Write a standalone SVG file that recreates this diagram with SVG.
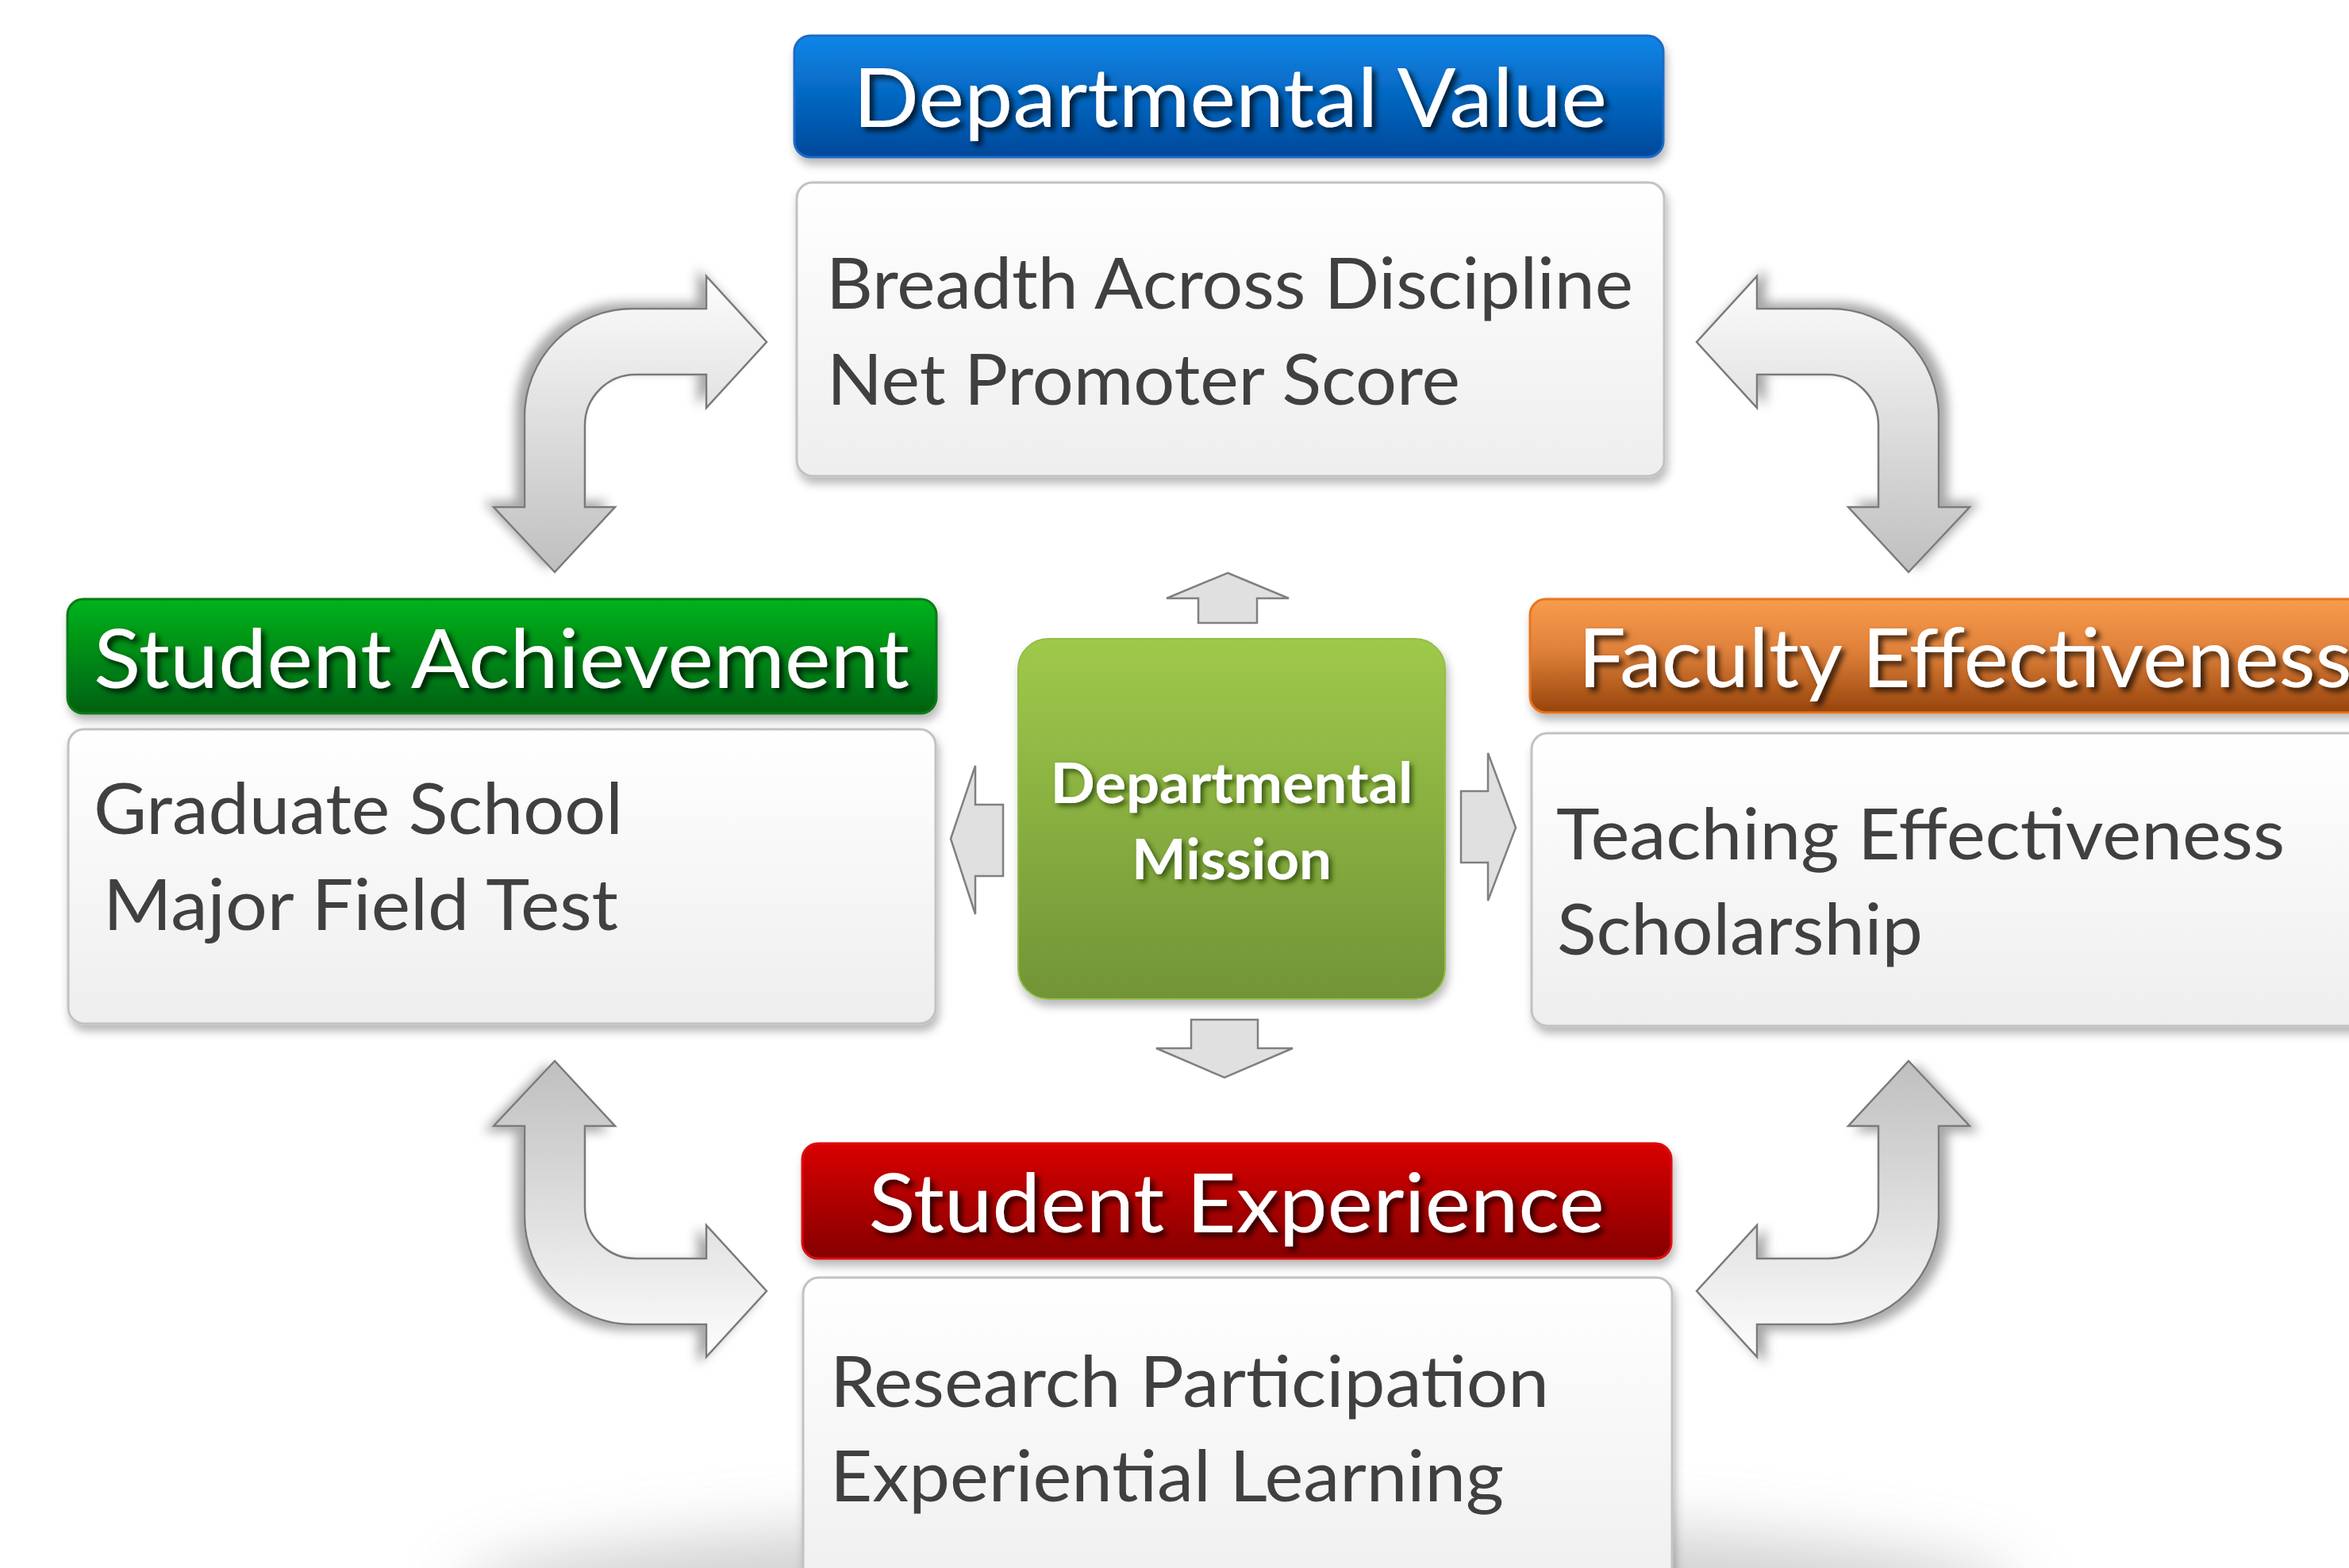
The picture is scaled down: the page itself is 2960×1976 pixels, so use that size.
<svg xmlns="http://www.w3.org/2000/svg" width="2960" height="1976" viewBox="0 0 2960 1976">
<defs>
<style>
.hdr{font-family:Lato,"Open Sans","Liberation Sans",sans-serif;font-size:102px;fill:#ffffff;filter:url(#fText)}
.body{font-family:Lato,"Open Sans","Liberation Sans",sans-serif;font-size:89px;fill:#404040}
.mis{font-family:Lato,"Open Sans","Liberation Sans",sans-serif;font-size:71px;font-weight:700;fill:#ffffff;filter:url(#fTextG)}
.panel{fill:url(#gPanel);stroke:#c2c2c2;stroke-width:3;filter:url(#fPanel)}
.small{fill:#e0e0e0;stroke:#808080;stroke-width:2.5}
.bent{fill:url(#gBent);stroke:#7a7a7a;stroke-width:2.5;filter:url(#fBent)}
</style>
<linearGradient id="gPanel" x1="0" y1="0" x2="0" y2="1"><stop offset="0" stop-color="#ffffff"/><stop offset="1" stop-color="#eeeeee"/></linearGradient>
<linearGradient id="gBlue" x1="0" y1="0" x2="0" y2="1"><stop offset="0" stop-color="#0b86e8"/><stop offset="1" stop-color="#00489a"/></linearGradient>
<linearGradient id="gGreen" x1="0" y1="0" x2="0" y2="1"><stop offset="0" stop-color="#00b31c"/><stop offset="1" stop-color="#006010"/></linearGradient>
<linearGradient id="gOrange" x1="0" y1="0" x2="0" y2="1"><stop offset="0" stop-color="#f89c4e"/><stop offset="0.45" stop-color="#e0813a"/><stop offset="1" stop-color="#96440c"/></linearGradient>
<linearGradient id="gRed" x1="0" y1="0" x2="0" y2="1"><stop offset="0" stop-color="#d90000"/><stop offset="1" stop-color="#850000"/></linearGradient>
<linearGradient id="gCenter" x1="0" y1="0" x2="0" y2="1"><stop offset="0" stop-color="#9fc94a"/><stop offset="1" stop-color="#729437"/></linearGradient>
<linearGradient id="gBent" x1="0" y1="0" x2="0" y2="1"><stop offset="0" stop-color="#bfbfbf"/><stop offset="1" stop-color="#fdfdfd"/></linearGradient>
<filter id="fPanel" x="-10%" y="-15%" width="120%" height="140%">
<feGaussianBlur in="SourceAlpha" stdDeviation="6"/>
<feOffset dx="3" dy="8" result="b"/>
<feFlood flood-color="#000000" flood-opacity="0.28"/>
<feComposite in2="b" operator="in"/>
<feMerge><feMergeNode/><feMergeNode in="SourceGraphic"/></feMerge>
</filter>
<filter id="fText" x="-5%" y="-20%" width="110%" height="150%">
<feGaussianBlur in="SourceAlpha" stdDeviation="3.5"/>
<feOffset dx="5" dy="5" result="b"/>
<feFlood flood-color="#000000" flood-opacity="0.75"/>
<feComposite in2="b" operator="in"/>
<feMerge><feMergeNode/><feMergeNode in="SourceGraphic"/></feMerge>
</filter>
<filter id="fTextG" x="-10%" y="-20%" width="120%" height="150%">
<feGaussianBlur in="SourceAlpha" stdDeviation="3"/>
<feOffset dx="4" dy="4" result="b"/>
<feFlood flood-color="#2c4a0c" flood-opacity="0.85"/>
<feComposite in2="b" operator="in"/>
<feMerge><feMergeNode/><feMergeNode in="SourceGraphic"/></feMerge>
</filter>
<filter id="fBent" x="-20%" y="-20%" width="140%" height="140%">
<feGaussianBlur in="SourceAlpha" stdDeviation="7"/>
<feOffset dx="10" dy="6" result="b"/>
<feFlood flood-color="#000000" flood-opacity="0.35"/>
<feComposite in2="b" operator="in"/>
<feMerge><feMergeNode/><feMergeNode in="SourceGraphic"/></feMerge>
</filter>
<filter id="fFloor" x="-20%" y="-100%" width="140%" height="300%">
<feGaussianBlur stdDeviation="40"/>
</filter>
<path id="bentArrow" d="M2405,1337 L2482,1419 L2443,1419 L2443,1533 A136,136 0 0 1 2307,1669 L2214,1669 L2214,1710 L2138,1627 L2214,1544 L2214,1586 L2303,1586 A64,64 0 0 0 2367,1522 L2367,1419 L2329,1419 Z"/>
</defs>
<rect x="0" y="0" width="2960" height="1976" fill="#ffffff"/>
<ellipse cx="1560" cy="2010" rx="980" ry="95" fill="#bdbdbd" opacity="0.7" filter="url(#fFloor)"/>

<g id="connectors">
<path class="small" d="M1547,722 L1624,754 L1584,754 L1584,785 L1510,785 L1510,754 L1470,754 Z"/>
<path class="small" d="M1501,1285 L1585,1285 L1585,1321 L1629,1321 L1543,1358 L1457,1321 L1501,1321 Z"/>
<path class="small" d="M1198,1057 L1229,965 L1229,1014 L1264,1014 L1264,1104 L1229,1104 L1229,1152 Z"/>
<path class="small" d="M1910,1043 L1875,949 L1875,997 L1841,997 L1841,1087 L1875,1087 L1875,1135 Z"/>
<use href="#bentArrow" class="bent"/>
<use href="#bentArrow" class="bent" transform="rotate(180 1552 1029)"/>
<use href="#bentArrow" class="bent" transform="matrix(1 0 0 -1 0 2058)"/>
<use href="#bentArrow" class="bent" transform="matrix(-1 0 0 1 3104 0)"/>
</g>

<g id="node-departmental-value">
<rect x="1001" y="45" width="1095" height="153" rx="20" fill="url(#gBlue)" stroke="#1d6bc6" stroke-width="3" filter="url(#fPanel)"/>
<text class="hdr" x="1550" y="160" text-anchor="middle" textLength="950" lengthAdjust="spacingAndGlyphs">Departmental Value</text>
<rect class="panel" x="1004" y="230" width="1093" height="370" rx="20"/>
<text class="body" x="1041" y="389" textLength="1017" lengthAdjust="spacingAndGlyphs">Breadth Across Discipline</text>
<text class="body" x="1042" y="510" textLength="798" lengthAdjust="spacingAndGlyphs">Net Promoter Score</text>
</g>

<g id="node-student-achievement">
<rect x="85" y="755" width="1095" height="144" rx="20" fill="url(#gGreen)" stroke="#0b7a16" stroke-width="3" filter="url(#fPanel)"/>
<text class="hdr" x="632" y="867" text-anchor="middle" textLength="1028" lengthAdjust="spacingAndGlyphs">Student Achievement</text>
<rect class="panel" x="86" y="919" width="1093" height="371" rx="20"/>
<text class="body" x="118" y="1051" textLength="667" lengthAdjust="spacingAndGlyphs">Graduate School</text>
<text class="body" x="130" y="1172" textLength="649" lengthAdjust="spacingAndGlyphs">Major Field Test</text>
</g>

<g id="node-faculty-effectiveness">
<rect x="1928" y="755" width="1095" height="143" rx="20" fill="url(#gOrange)" stroke="#e8741e" stroke-width="3" filter="url(#fPanel)"/>
<text class="hdr" x="2476" y="866" text-anchor="middle" textLength="975" lengthAdjust="spacingAndGlyphs">Faculty Effectiveness</text>
<rect class="panel" x="1930" y="924" width="1093" height="369" rx="20"/>
<text class="body" x="1961" y="1083" textLength="918" lengthAdjust="spacingAndGlyphs">Teaching Effectiveness</text>
<text class="body" x="1962" y="1203" textLength="461" lengthAdjust="spacingAndGlyphs">Scholarship</text>
</g>

<g id="node-student-experience">
<rect x="1011" y="1441" width="1095" height="145" rx="20" fill="url(#gRed)" stroke="#dc0a0a" stroke-width="3" filter="url(#fPanel)"/>
<text class="hdr" x="1558" y="1553" text-anchor="middle" textLength="927" lengthAdjust="spacingAndGlyphs">Student Experience</text>
<rect class="panel" x="1012" y="1610" width="1095" height="420" rx="20"/>
<text class="body" x="1046" y="1773" textLength="906" lengthAdjust="spacingAndGlyphs">Research Participation</text>
<text class="body" x="1046" y="1892" textLength="849" lengthAdjust="spacingAndGlyphs">Experiential Learning</text>
</g>

<g id="node-departmental-mission">
<rect x="1283" y="805" width="538" height="454" rx="38" fill="url(#gCenter)" stroke="#92bf4a" stroke-width="2" filter="url(#fPanel)"/>
<text class="mis" x="1552" y="1012" text-anchor="middle" textLength="457" lengthAdjust="spacingAndGlyphs">Departmental</text>
<text class="mis" x="1552" y="1108" text-anchor="middle" textLength="252" lengthAdjust="spacingAndGlyphs">Mission</text>
</g>
</svg>
